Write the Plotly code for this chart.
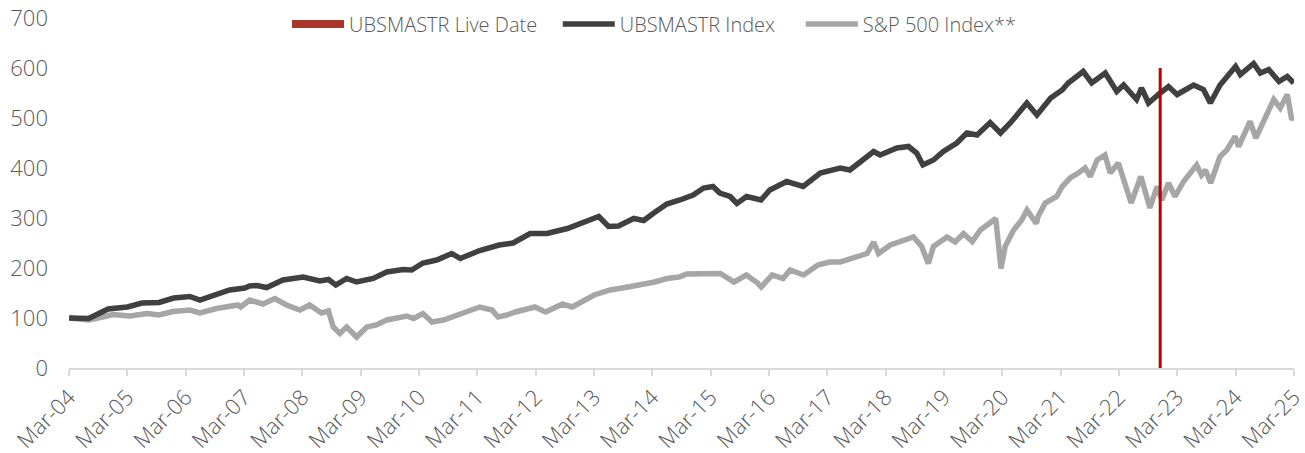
import plotly.graph_objects as go

# ---- data ----
ubs_dates = ["2004-03-31","2004-07-31","2004-11-30","2005-03-31","2005-06-30","2005-10-15","2006-01-15",
 "2006-04-25","2006-06-28","2006-09-15","2006-12-31","2007-04-05","2007-05-05","2007-06-20","2007-08-20",
 "2007-11-30","2008-04-05","2008-07-18","2008-09-10","2008-10-26","2009-01-02","2009-03-05","2009-06-17",
 "2009-09-10","2009-12-22","2010-02-13","2010-04-25","2010-07-20","2010-10-22","2010-12-14","2011-03-05",
 "2011-04-15","2011-08-15","2011-11-10","2012-02-25","2012-06-10","2012-10-15","2013-01-25","2013-04-30",
 "2013-06-30","2013-08-31","2013-12-05","2014-02-05","2014-04-05","2014-06-30","2014-09-20","2014-12-12",
 "2015-02-15","2015-04-15","2015-05-28","2015-07-31","2015-09-12","2015-11-12","2016-02-10","2016-04-05",
 "2016-07-20","2016-10-31","2017-02-15","2017-06-20","2017-08-20","2017-10-22","2018-01-15","2018-02-25",
 "2018-06-10","2018-08-22","2018-10-12","2018-11-20","2019-01-25","2019-03-28","2019-06-20","2019-08-22",
 "2019-10-25","2020-01-15","2020-03-20","2020-05-20","2020-09-01","2020-11-03","2021-01-28","2021-04-10",
 "2021-05-18","2021-08-20","2021-10-12","2022-01-05","2022-03-18","2022-04-30","2022-07-20","2022-08-20",
 "2022-10-03","2022-12-15","2023-02-05","2023-03-31","2023-07-12","2023-09-12","2023-10-25","2023-12-25",
 "2024-03-31","2024-04-30","2024-07-22","2024-09-02","2024-10-25","2024-12-28","2025-02-18","2025-03-31"]
ubs_values = [100,99,118,122,130,131,140,
 143,136,145,156,160,164,165,161,
 176,182,174,177,166,179,172,179,
 192,197,196,210,216,229,219,231,
 235,246,250,269,269,279,291,303,
 283,284,299,295,309,328,336,346,
 360,363,350,343,329,343,336,356,
 373,363,390,400,396,413,433,426,
 440,443,430,406,416,433,450,470,
 466,491,470,490,530,506,540,556,
 570,593,570,590,553,566,537,560,
 530,550,563,547,566,557,530,566,
 603,587,609,590,597,573,583,570]

spx_dates = ["2004-03-31","2004-07-31","2004-09-15","2004-12-31","2005-04-15","2005-08-01","2005-10-15",
 "2006-01-10","2006-04-25","2006-06-28","2006-10-10","2007-02-20","2007-03-10","2007-05-05","2007-07-28",
 "2007-10-10","2007-12-22","2008-03-15","2008-05-15","2008-07-28","2008-09-10","2008-10-10","2008-11-20",
 "2009-01-02","2009-03-05","2009-05-08","2009-07-07","2009-09-10","2010-01-13","2010-02-25","2010-04-25",
 "2010-06-20","2010-09-01","2010-11-22","2011-02-14","2011-04-15","2011-07-01","2011-08-08","2011-10-01",
 "2011-11-25","2012-03-25","2012-06-01","2012-09-15","2012-11-15","2013-04-01","2013-07-10","2013-10-31",
 "2014-01-15","2014-04-15","2014-07-01","2014-09-15","2014-11-01","2015-02-01","2015-05-31","2015-08-25",
 "2015-11-10","2016-01-20","2016-02-11","2016-04-20","2016-06-27","2016-08-10","2016-11-03","2017-01-31",
 "2017-04-15","2017-06-20","2017-09-10","2017-12-05","2018-01-15","2018-02-15","2018-04-30","2018-07-22",
 "2018-09-22","2018-11-12","2018-12-24","2019-01-25","2019-04-20","2019-06-10","2019-08-01","2019-09-25",
 "2019-11-15","2020-02-19","2020-03-23","2020-04-18","2020-06-10","2020-07-31","2020-09-02","2020-10-30",
 "2020-11-10","2020-12-25","2021-03-07","2021-04-10","2021-05-30","2021-07-20","2021-09-01","2021-10-03",
 "2021-11-15","2022-01-03","2022-02-05","2022-03-28","2022-05-09","2022-06-16","2022-08-16","2022-10-12",
 "2022-11-25","2022-12-25","2023-02-05","2023-03-18","2023-05-10","2023-07-31","2023-08-31","2023-09-24",
 "2023-10-27","2023-12-25","2024-02-05","2024-03-28","2024-04-19","2024-06-30","2024-08-05","2024-10-02",
 "2024-11-25","2025-01-05","2025-02-18","2025-03-18","2025-03-31"]
spx_values = [100,96,99,107,104,109,106,
 113,116,110,119,126,122,136,128,
 139,126,116,126,110,114,82,69,
 82,62,82,86,96,104,99,109,
 92,96,106,116,122,116,102,106,
 112,122,112,128,122,146,156,162,
 166,172,179,182,188,188,189,172,
 186,170,162,186,179,196,186,206,
 212,212,219,229,252,229,246,256,
 262,243,209,243,262,252,269,253,
 276,299,199,243,276,296,316,289,
 303,330,343,363,380,390,400,383,
 416,426,390,410,370,330,383,320,
 363,336,370,343,373,406,386,396,
 370,423,436,463,443,493,460,503,
 537,520,547,496,506]

live_date = "2022-12-15"
live_line_top = 600

tick_dates = ["%d-03-31" % y for y in range(2004, 2026)]
tick_labels = ["Mar-%02d" % (y % 100) for y in range(2004, 2026)]

DARK = "#404040"
LIGHT = "#A6A6A6"
RED = "#C00000"
RED_LEG = "#A8352A"
TXT = "#595959"
FONT = "Open Sans"
PAD = "\u00a0"

fig = go.Figure()
fig.add_trace(go.Scatter(x=spx_dates, y=spx_values, mode="lines", name="S&P 500 Index**",
                         line=dict(color=LIGHT, width=5.5), legendrank=3))
fig.add_trace(go.Scatter(x=ubs_dates, y=ubs_values, mode="lines", name="UBSMASTR Index" + PAD * 4,
                         line=dict(color=DARK, width=5.5), legendrank=2))
fig.add_trace(go.Scatter(x=[live_date, live_date], y=[0, live_line_top], mode="lines",
                         line=dict(color=RED, width=3), showlegend=False, hoverinfo="skip"))
fig.add_trace(go.Scatter(x=[None], y=[None], mode="lines", name="UBSMASTR Live Date" + PAD * 3,
                         line=dict(color=RED_LEG, width=8), legendrank=1))

fig.update_layout(
    width=1305, height=453,
    margin=dict(l=69, r=11, t=18, b=85, autoexpand=False),
    paper_bgcolor="white", plot_bgcolor="white",
    font=dict(family=FONT, color=TXT, size=20, weight=300),
    showlegend=True,
    legend=dict(orientation="h", x=0.478, xanchor="center", y=0.983, yanchor="middle",
                font=dict(size=20, color=TXT, weight=300), itemwidth=52, tracegroupgap=0,
                bgcolor="rgba(0,0,0,0)"),
    xaxis=dict(type="date", range=["2004-03-30", "2025-04-01"], automargin=False,
               tickmode="array", tickvals=tick_dates, ticktext=tick_labels,
               tickangle=-45, tickfont=dict(size=22, color=TXT, weight=300),
               ticklabeloverflow="allow",
               showline=True, linecolor="#D9D9D9", linewidth=1.5,
               ticks="outside", ticklen=6, tickcolor="#D9D9D9", tickwidth=1.5,
               showgrid=False, zeroline=False),
    yaxis=dict(range=[0, 700], tickmode="linear", tick0=0, dtick=100, automargin=False,
               tickfont=dict(size=22, color=TXT, weight=300), showgrid=False, zeroline=False,
               showline=False, ticks="", ticklabelstandoff=20),
)

fig.write_html("out.html", config={"displayModeBar": False},
               post_script="document.body.style.margin='0';document.body.style.overflow='hidden';")
